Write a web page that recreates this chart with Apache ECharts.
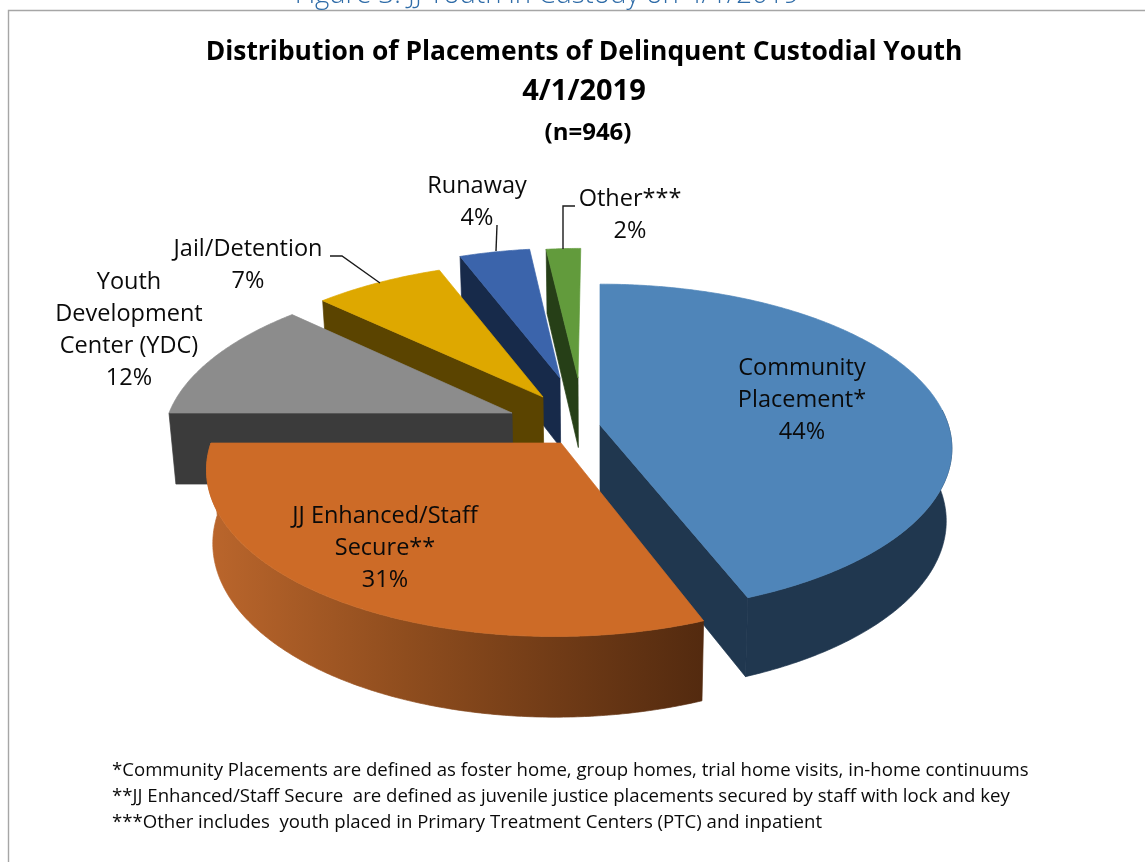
<!DOCTYPE html>
<html>
<head>
<meta charset="utf-8">
<title>Distribution of Placements of Delinquent Custodial Youth</title>
<script src="https://cdn.jsdelivr.net/npm/echarts@6/dist/echarts.min.js"></script>
<style>
  html, body { margin: 0; padding: 0; background: #fff; }
  #chart { width: 1145px; height: 862px; }
</style>
</head>
<body>
<div id="chart"></div>
<script>
// Placement shares, percent of the 946 youth in custody.
const categories = ['Community\nPlacement*', 'JJ Enhanced/Staff\nSecure**', 'Youth\nDevelopment\nCenter (YDC)', 'Jail/Detention', 'Runaway', 'Other***'];
const shares = [44, 31, 12, 7, 4, 2];

const captionText = 'Figure 3: JJ Youth in Custody on 4/1/2019';
const titleLines = ['Distribution of Placements of Delinquent Custodial Youth', '4/1/2019'];
const subtitleText = '(n=946)';
const footnotes = [
  '*Community Placements are defined as foster home, group homes, trial home visits, in-home continuums',
  '**JJ Enhanced/Staff Secure  are defined as juvenile justice placements secured by staff with lock and key',
  '***Other includes  youth placed in Primary Treatment Centers (PTC) and inpatient'
];

// Exploded position of each wedge on screen, its depth scale, colours, and
// which extruded faces can be seen from the viewpoint.
const wedgeStyle = [
  { ax: 600, ay: 425, s: 0.995, sy: 1.00, top: '#4f85b9', side: '#20374f', faces: ['end', 'wall'] },
  { ax: 561, ay: 443, s: 1.00, sy: 1.03, top: '#cd6b27', side: '#5a2d10', faces: ['wall'] },
  { ax: 512, ay: 413, s: 0.98, sy: 0.98, top: '#8c8c8c', side: '#3b3b3b', faces: ['start'] },
  { ax: 543, ay: 397, s: 0.97, sy: 0.96, top: '#dea800', side: '#5b4400', faces: ['start'] },
  { ax: 560, ay: 378, s: 0.92, sy: 0.92, top: '#3b64ab', side: '#172a4a', faces: ['start'] },
  { ax: 578, ay: 378, s: 0.90, sy: 0.92, top: '#629b3c', side: '#263f17', faces: ['start'] }
];
// Back wedges are painted first so the nearer ones overlap them.
const paintOrder = [5, 4, 3, 2, 0, 1];

// Label block centres and leader polylines.
const labelLayout = [
  { x: 802, y: 400 }, { x: 385, y: 548 }, { x: 129, y: 330 },
  { x: 248, y: 265 }, { x: 477, y: 202 }, { x: 630, y: 215 }
];
const leaderLines = [
  [[330, 256], [342, 256], [380, 283]],
  [[497, 225], [496, 251]],
  [[575, 206], [563, 206], [563, 249]]
];

// Projection of the tilted pie.
const RX = 350, RY = 161, PERSP = 0.143, VANISH_X = 600, WALL_SHRINK = 0.984;
// The outer wall only shows from just behind the widest point of the ellipse onward.
const WALL_FROM = Math.PI * 0.47;
const FONT = '"Open Sans", sans-serif';
const total = shares.reduce((a, b) => a + b, 0);

const toAngle = v => echarts.number.linearMap(v, [0, total], [0, Math.PI * 2]);

function topPoint(w, phi) {
  const x = Math.sin(phi), d = -Math.cos(phi);
  const k = 1 / (1 - PERSP * d);
  return [
    w.ax + w.s * RX * x * k + (w.ax - VANISH_X) * (k - 1),
    w.ay + w.sy * RY * d * k
  ];
}
function dropPoint(p) {
  return [
    VANISH_X + (p[0] - VANISH_X) * WALL_SHRINK,
    p[1] + 64 + 0.043 * (p[1] - 249)
  ];
}
function arc(w, a0, a1) {
  const n = Math.max(2, Math.ceil((a1 - a0) / (Math.PI / 360)));
  const pts = [];
  for (let i = 0; i <= n; i++) pts.push(topPoint(w, a0 + (a1 - a0) * i / n));
  return pts;
}
function poly(points, fill) {
  // A hairline in the fill colour closes the seams between adjoining faces.
  return { type: 'polygon', shape: { points }, style: { fill, stroke: fill, lineWidth: 0.7 }, silent: true };
}

let start = 0;
const ranges = shares.map(v => { const r = [start, start + v]; start += v; return r; });

function renderWedge(params) {
  const i = paintOrder[params.dataIndex];
  const w = wedgeStyle[i];
  const a0 = toAngle(ranges[i][0]), a1 = toAngle(ranges[i][1]);
  const outer = arc(w, a0, a1);
  const apex = [w.ax, w.ay];
  const first = outer[0], last = outer[outer.length - 1];
  const children = [];
  if (w.faces.includes('start')) {
    children.push(poly([first, apex, dropPoint(apex), dropPoint(first)], w.side));
  }
  if (w.faces.includes('end')) {
    children.push(poly([last, apex, dropPoint(apex), dropPoint(last)], w.side));
  }
  if (w.faces.includes('wall')) {
    const rim = arc(w, Math.max(a0, WALL_FROM), a1);
    // The orange wedge's rim catches the light from the left.
    const fill = i === 1 ? new echarts.graphic.LinearGradient(0, 0, 1, 0, [
      { offset: 0, color: '#bb662c' },
      { offset: 0.4, color: '#8f4d1e' },
      { offset: 1, color: '#532a0f' }
    ]) : w.side;
    children.push(poly(rim.concat(rim.map(dropPoint).reverse()), fill));
  }
  children.push(poly([apex].concat(outer), w.top));
  return { type: 'group', children };
}

function renderLabel(params, api) {
  const i = params.dataIndex;
  return {
    type: 'text',
    silent: true,
    style: {
      x: labelLayout[i].x,
      y: labelLayout[i].y,
      text: categories[i] + '\n' + api.value(0) + '%',
      fill: '#0a0a0a',
      font: '400 23.5px ' + FONT,
      lineHeight: 32,
      align: 'center',
      verticalAlign: 'middle'
    }
  };
}

function textEl(text, x, y, font, fill, align) {
  return {
    type: 'text', silent: true,
    style: { x, y, text, font, fill, align: align || 'center', verticalAlign: 'middle' }
  };
}

const graphics = [
  { type: 'polyline', silent: true, shape: { points: [[8.5, 862], [8.5, 10.5], [1145, 10.5]] },
    style: { stroke: '#a6a6a6', lineWidth: 1.4, fill: 'none' } },
  textEl(captionText, 547, -5, '300 27.6px ' + FONT, '#2f6ca8'),
  textEl(titleLines[0], 584, 52, '700 26.4px ' + FONT, '#000'),
  textEl(titleLines[1], 584, 92, '700 29px ' + FONT, '#000'),
  textEl(subtitleText, 588, 133, '700 24px ' + FONT, '#000')
];
footnotes.forEach((t, i) => graphics.push(textEl(t, 112, 771 + i * 26, '400 18.6px ' + FONT, '#0a0a0a', 'left')));
leaderLines.forEach(points => graphics.push({
  type: 'polyline', silent: true, z: 5, shape: { points },
  style: { stroke: '#1a1a1a', lineWidth: 1.4, fill: 'none' }
}));

const chart = echarts.init(document.getElementById('chart'), null, { renderer: 'canvas' });
chart.setOption({
  animation: false,
  backgroundColor: '#fff',
  tooltip: { show: false },
  graphic: graphics,
  series: [
    {
      type: 'custom', coordinateSystem: 'none', silent: true, z: 2,
      data: paintOrder.map(i => [shares[i]]),
      renderItem: renderWedge
    },
    {
      type: 'custom', coordinateSystem: 'none', silent: true, z: 3,
      data: shares.map(v => [v]),
      renderItem: renderLabel
    }
  ]
});
</script>
</body>
</html>
